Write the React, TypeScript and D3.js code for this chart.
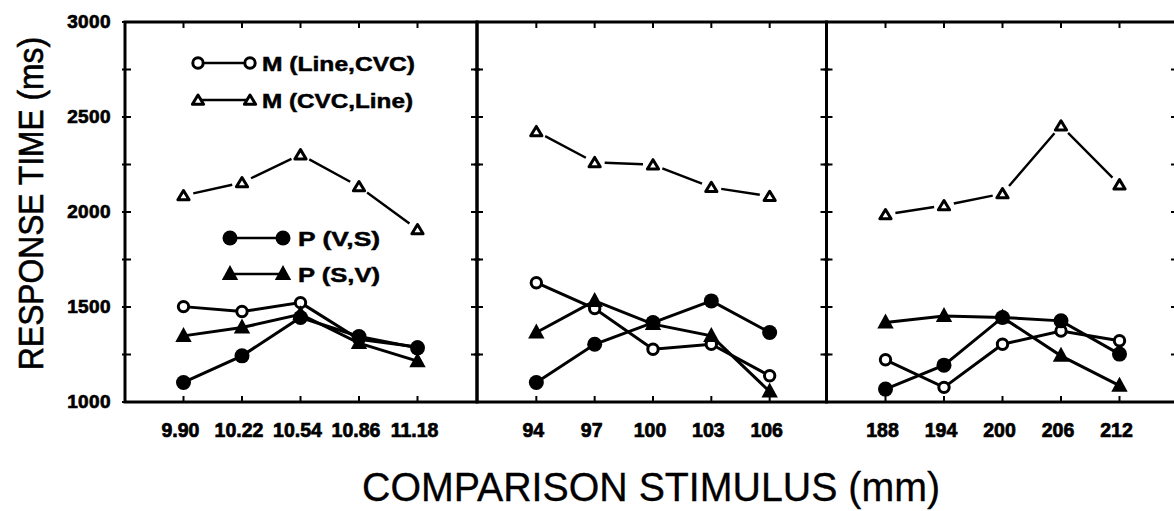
import React from "react";
import * as d3 from "d3";

// ---- data ----
const panel1X = [9.9, 10.22, 10.54, 10.86, 11.18];
const panel1Labels = ["9.90", "10.22", "10.54", "10.86", "11.18"];
const panel2X = [94, 97, 100, 103, 106];
const panel2Labels = ["94", "97", "100", "103", "106"];
const panel3X = [188, 194, 200, 206, 212];
const panel3Labels = ["188", "194", "200", "206", "212"];

// M (Line,CVC) - open circle
const mLineCvc1 = [1502, 1476, 1523, 1330, 1290];
const mLineCvc2 = [1628, 1492, 1278, 1304, 1138];
const mLineCvc3 = [1222, 1077, 1304, 1374, 1322];
// M (CVC,Line) - open triangle
const mCvcLine1 = [2087, 2155, 2302, 2134, 1908];
const mCvcLine2 = [2424, 2261, 2249, 2130, 2083];
const mCvcLine3 = [1987, 2034, 2097, 2454, 2144];
// P (V,S) - filled circle
const pVS1 = [1103, 1243, 1445, 1345, 1285];
const pVS2 = [1103, 1304, 1418, 1532, 1366];
const pVS3 = [1068, 1194, 1445, 1427, 1252];
// P (S,V) - filled triangle
const pSV1 = [1348, 1392, 1462, 1310, 1215];
const pSV2 = [1366, 1532, 1410, 1348, 1055];
const pSV3 = [1418, 1453, 1445, 1243, 1086];

const yTicks = [1000, 1250, 1500, 1750, 2000, 2250, 2500, 2750, 3000];
const yLabels = [1000, 1500, 2000, 2500, 3000];

const legendItems = [
  { label: "M (Line,CVC)", kind: "openCircle" },
  { label: "M (CVC,Line)", kind: "openTriangle" },
  { label: "P (V,S)", kind: "filledCircle" },
  { label: "P (S,V)", kind: "filledTriangle" },
];

// ---- layout ----
const W = 1174;
const H = 511;
const TOP = 22;
const BOTTOM = 402;
const FONT = "'Liberation Sans', Arial, Helvetica, sans-serif";

const y = d3.scaleLinear().domain([1000, 3000]).range([BOTTOM, TOP]);

const panels = [
  { xs: panel1X, labels: panel1Labels, domain: [9.58, 11.5], range: [125, 476], left: 125, right: 477,
    series: { openCircle: mLineCvc1, openTriangle: mCvcLine1, filledCircle: pVS1, filledTriangle: pSV1 } },
  { xs: panel2X, labels: panel2Labels, domain: [91, 109], range: [478, 828], left: 477, right: 826.5,
    series: { openCircle: mLineCvc2, openTriangle: mCvcLine2, filledCircle: pVS2, filledTriangle: pSV2 } },
  { xs: panel3X, labels: panel3Labels, domain: [182, 218], range: [827, 1178], left: 826.5, right: 1177,
    series: { openCircle: mLineCvc3, openTriangle: mCvcLine3, filledCircle: pVS3, filledTriangle: pSV3 } },
];

const OPEN_TRI = "M0,-5L5.6,4.3L-5.6,4.3Z";
const FILLED_TRI = "M0,-9L8.2,6L-8.2,6Z";

function Marker({ kind, cx, cy }: { kind: string; cx: number; cy: number }) {
  if (kind === "openCircle")
    return <circle cx={cx} cy={cy} r={5.2} fill="#fff" stroke="#000" strokeWidth={3} />;
  if (kind === "filledCircle") return <circle cx={cx} cy={cy} r={7.5} fill="#000" />;
  if (kind === "openTriangle")
    return <path d={OPEN_TRI} transform={`translate(${cx},${cy})`} fill="#fff" stroke="#000" strokeWidth={3} strokeLinejoin="round" />;
  return <path d={FILLED_TRI} transform={`translate(${cx},${cy})`} fill="#000" />;
}

function gapSegments(pts: [number, number][], g: number) {
  const segs: string[] = [];
  for (let i = 0; i < pts.length - 1; i++) {
    const [x1, y1] = pts[i];
    const [x2, y2] = pts[i + 1];
    const d = Math.hypot(x2 - x1, y2 - y1);
    const ux = (x2 - x1) / d;
    const uy = (y2 - y1) / d;
    segs.push(`M${x1 + ux * g},${y1 + uy * g}L${x2 - ux * g},${y2 - uy * g}`);
  }
  return segs.join("");
}

const drawOrder = ["openTriangle", "openCircle", "filledTriangle", "filledCircle"];

export default function App() {
  const line = d3.line<[number, number]>();
  return (
    <svg width={W} height={H} style={{ position: "absolute", left: 0, top: 0, background: "#fff" }}>
      <rect x={0} y={0} width={W} height={H} fill="#fff" />
      {panels.map((p, pi) => {
        const x = d3.scaleLinear().domain(p.domain).range(p.range);
        const s = p.series as Record<string, number[]>;
        return (
          <g key={pi}>
            {/* lines */}
            {drawOrder.map((k) => {
              const pts = p.xs.map((v, i) => [x(v), y(s[k][i])] as [number, number]);
              if (k === "openTriangle")
                return <path key={k} d={gapSegments(pts, 10)} stroke="#000" strokeWidth={2.4} fill="none" />;
              return <path key={k} d={line(pts) || ""} stroke="#000" strokeWidth={3} fill="none" />;
            })}
            {/* markers */}
            {drawOrder.map((k) => (
              <g key={k + "m"}>
                {p.xs.map((v, i) => (
                  <Marker key={i} kind={k} cx={x(v)} cy={y(s[k][i])} />
                ))}
              </g>
            ))}
            {/* x ticks */}
            {p.xs.map((v, i) => (
              <g key={"xt" + i}>
                <line x1={x(v)} x2={x(v)} y1={TOP} y2={TOP + 6} stroke="#000" strokeWidth={2} />
                <line x1={x(v)} x2={x(v)} y1={BOTTOM} y2={BOTTOM - 6} stroke="#000" strokeWidth={2} />
                <text x={x(v) - 3} y={437} textAnchor="middle" fontFamily={FONT} fontWeight="bold" fontSize={19.5}
                  stroke="#000" strokeWidth={0.7}>
                  {p.labels[i]}
                </text>
              </g>
            ))}
            {/* y ticks */}
            {yTicks.map((t) => (
              <g key={"yt" + t}>
                <line x1={p.left - 3} x2={p.left + 6} y1={y(t)} y2={y(t)} stroke="#000" strokeWidth={2} />
                <line x1={p.right - 6} x2={p.right + 3} y1={y(t)} y2={y(t)} stroke="#000" strokeWidth={2} />
              </g>
            ))}
            {/* frame */}
            <rect x={p.left} y={TOP} width={p.right - p.left} height={BOTTOM - TOP} fill="none" stroke="#000" strokeWidth={3} />
          </g>
        );
      })}

      {/* y tick labels */}
      {yLabels.map((t) => (
        <text key={t} x={111} y={y(t) + 6} textAnchor="end" fontFamily={FONT} fontWeight="bold" fontSize={19}
          letterSpacing={0.4} stroke="#000" strokeWidth={0.7}>
          {t}
        </text>
      ))}

      {/* legend */}
      {legendItems.map((it, i) => {
        const rowY = [63, 100, 238, 274][i];
        const x1 = i < 2 ? 198 : 230;
        const x2 = i < 2 ? 250 : 283;
        const tx = i < 2 ? 262 : 298;
        const tl = [153, 151, 82, 82][i];
        return (
          <g key={it.label}>
            <line x1={x1} x2={x2} y1={rowY} y2={rowY} stroke="#000" strokeWidth={2.6} />
            <Marker kind={it.kind} cx={x1} cy={rowY} />
            <Marker kind={it.kind} cx={x2} cy={rowY} />
            <text x={tx} y={rowY + 7.5} fontFamily={FONT} fontWeight="bold" fontSize={20.5} textLength={tl}
              lengthAdjust="spacingAndGlyphs" stroke="#000" strokeWidth={0.5}>
              {it.label}
            </text>
          </g>
        );
      })}

      {/* axis titles */}
      <text transform="translate(43,203.5) rotate(-90)" textAnchor="middle" fontFamily={FONT} fontSize={35}
        textLength={333} lengthAdjust="spacingAndGlyphs" stroke="#000" strokeWidth={0.6}>
        RESPONSE TIME (ms)
      </text>
      <text x={651} y={501} textAnchor="middle" fontFamily={FONT} fontSize={41} textLength={578}
        lengthAdjust="spacingAndGlyphs" stroke="#000" strokeWidth={0.3}>
        COMPARISON STIMULUS (mm)
      </text>
    </svg>
  );
}
